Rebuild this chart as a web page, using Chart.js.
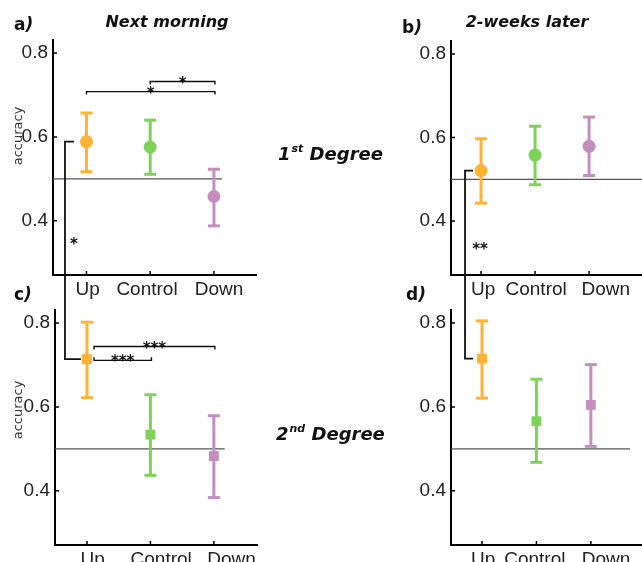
<!DOCTYPE html>
<html>
<head>
<meta charset="utf-8">
<script src="https://cdn.jsdelivr.net/npm/chart.js@4.4.0/dist/chart.umd.min.js"></script>
<style>
  html, body { margin: 0; padding: 0; background: #fff; }
  #wrap { position: relative; width: 642px; height: 562px; overflow: hidden; }
  #wrap canvas { position: absolute; left: 0; top: 0; }
</style>
</head>
<body>
<div id="wrap">
  <canvas id="cA" width="642" height="562"></canvas>
  <canvas id="cB" width="642" height="562"></canvas>
  <canvas id="cC" width="642" height="562"></canvas>
  <canvas id="cD" width="642" height="562"></canvas>
</div>
<script>
// groups and shared axis values
const categories = ['Up', 'Control', 'Down'];
const groupColors = ['#FFB233', '#7DD35A', '#C28FBF'];
const yTicks = [0.4, 0.6, 0.8];
const chance = 0.5;

// a) 1st degree, next morning
const meanA = [0.589, 0.576, 0.458];
const lowA  = [0.517, 0.511, 0.388];
const highA = [0.657, 0.640, 0.523];
// b) 1st degree, 2 weeks later
const meanB = [0.521, 0.558, 0.579];
const lowB  = [0.443, 0.487, 0.509];
const highB = [0.597, 0.627, 0.649];
// c) 2nd degree, next morning
const meanC = [0.714, 0.534, 0.483];
const lowC  = [0.622, 0.437, 0.384];
const highC = [0.802, 0.629, 0.579];
// d) 2nd degree, 2 weeks later
const meanD = [0.715, 0.566, 0.605];
const lowD  = [0.621, 0.468, 0.506];
const highD = [0.805, 0.666, 0.701];

// significance brackets (group index from/to, height in accuracy units)
const sigA = [
  { from: 0, to: 2, y: 0.708, text: '*', tick: 1 },
  { from: 1, to: 2, y: 0.732, text: '*', tick: 1 }
];
const sigC = [
  { from: 0, to: 1, y: 0.711, text: '***', tick: -1 },
  { from: 0, to: 2, y: 0.744, text: '***', tick: 1 }
];

const tickFont = { family: 'Liberation Sans', size: 19 };
const W = 642, H = 562;

const innerTicks = {
  id: 'innerTicks',
  afterDraw(chart) {
    const { ctx, chartArea: a, scales: { x, y } } = chart;
    ctx.save();
    ctx.strokeStyle = '#000';
    ctx.lineWidth = 1.5;
    ctx.beginPath();
    y.ticks.forEach(t => {
      const p = y.getPixelForValue(t.value);
      ctx.moveTo(a.left, p); ctx.lineTo(a.left + 4, p);
    });
    categories.forEach((c, i) => {
      const p = x.getPixelForValue(i + 1);
      ctx.moveTo(p, a.bottom); ctx.lineTo(p, a.bottom - 4);
    });
    ctx.stroke();
    ctx.restore();
  }
};

function brackets(items, gap) {
  return {
    id: 'brackets',
    afterDatasetsDraw(chart) {
      const { ctx, scales: { x, y } } = chart;
      ctx.save();
      ctx.strokeStyle = '#111';
      ctx.fillStyle = '#111';
      ctx.lineWidth = 1.4;
      ctx.font = 'bold 15px "DejaVu Sans"';
      ctx.textAlign = 'center';
      items.forEach(s => {
        const x0 = x.getPixelForValue(s.from + 1) + gap;
        const x1 = x.getPixelForValue(s.to + 1) + 1;
        const py = y.getPixelForValue(s.y);
        ctx.beginPath();
        ctx.moveTo(x0, py + 3 * s.tick); ctx.lineTo(x0, py);
        ctx.lineTo(x1, py); ctx.lineTo(x1, py + 3 * s.tick);
        ctx.stroke();
        ctx.fillText(s.text, (x0 + x1) / 2, py + 6);
      });
      ctx.restore();
    }
  };
}

// vertical bracket joining the "Up" means of the upper and lower panel
function crossBracket(getUpper, upperMean, lowerMean, back, armTop, armBottom, text, textVal, textDx) {
  return {
    id: 'crossBracket',
    afterDraw(chart) {
      const up = getUpper();
      const { ctx } = chart;
      const xl = chart.scales.x.getPixelForValue(1) - back;
      const yTop = up.scales.y.getPixelForValue(upperMean[0]);
      const yBot = chart.scales.y.getPixelForValue(lowerMean[0]);
      ctx.save();
      ctx.strokeStyle = '#111';
      ctx.lineWidth = 1.8;
      ctx.beginPath();
      ctx.moveTo(xl + armTop, yTop); ctx.lineTo(xl, yTop);
      ctx.lineTo(xl, yBot); ctx.lineTo(xl + armBottom, yBot);
      ctx.stroke();
      ctx.fillStyle = '#111';
      ctx.font = 'bold 15px "DejaVu Sans"';
      ctx.textAlign = 'center';
      ctx.fillText(text, xl + textDx, up.scales.y.getPixelForValue(textVal) + 7);
      ctx.restore();
    }
  };
}

const labels = {
  id: 'labels',
  afterDraw(chart) {
    const ctx = chart.ctx;
    ctx.save();
    ctx.fillStyle = '#111';
    const tag = (a, x, y) => {
      ctx.textAlign = 'left';
      ctx.font = 'bold 17px "DejaVu Sans"';
      ctx.fillText(a, x, y);
      const w = ctx.measureText(a).width;
      ctx.font = 'bold italic 17px "DejaVu Sans"';
      ctx.fillText(')', x + w, y);
    };
    tag('a', 14, 30); tag('b', 402, 33); tag('c', 14, 300); tag('d', 406, 300);
    ctx.font = 'bold italic 16px "DejaVu Sans"';
    ctx.textAlign = 'center';
    ctx.fillText('Next morning', 167, 27);
    ctx.fillText('2-weeks later', 527, 27);
    const degree = (num, sup, x, y) => {
      ctx.textAlign = 'left';
      ctx.font = 'bold italic 18px "DejaVu Sans"';
      ctx.fillText(num, x, y);
      let w = ctx.measureText(num).width + 1;
      ctx.font = 'bold italic 11px "DejaVu Sans"';
      ctx.fillText(sup, x + w, y - 8);
      w += ctx.measureText(sup).width;
      ctx.font = 'bold italic 18px "DejaVu Sans"';
      ctx.fillText(' Degree', x + w, y);
    };
    degree('1', 'st', 278, 160);
    degree('2', 'nd', 276, 440);
    ctx.fillStyle = '#333';
    ctx.font = '13px "DejaVu Sans"';
    ctx.textAlign = 'center';
    [136, 410].forEach(cy => {
      ctx.save();
      ctx.translate(18, cy);
      ctx.rotate(-Math.PI / 2);
      ctx.fillText('accuracy', 0, 4);
      ctx.restore();
    });
    ctx.restore();
  }
};

function panel(id, o) {
  const xs = categories.map((c, i) => i + 1);
  const datasets = [{
    data: xs.map((x, i) => ({ x, y: o.mean[i] })),
    pointStyle: o.marker, pointRadius: o.r,
    pointBackgroundColor: groupColors, pointBorderWidth: 0,
    showLine: false, order: 0
  }];
  xs.forEach((x, i) => datasets.push({
    data: [{ x, y: o.low[i] }, { x, y: o.high[i] }],
    showLine: true, borderColor: groupColors[i], borderWidth: 3,
    pointStyle: 'line', pointRadius: 6, pointBorderColor: groupColors[i],
    pointBorderWidth: 3, order: 1
  }));
  datasets.push({
    data: [{ x: o.xMin, y: chance }, { x: o.chanceEnd, y: chance }],
    showLine: true, borderColor: '#555', borderWidth: 1.3, pointRadius: 0, order: 2
  });
  const yw = 40;
  return new Chart(document.getElementById(id), {
    type: 'scatter',
    data: { datasets },
    options: {
      responsive: false,
      animation: false,
      events: [],
      clip: false,
      layout: {
        autoPadding: false,
        padding: { left: o.box[0] - yw, top: o.box[1], right: W - o.box[2], bottom: H - o.box[3] - o.xh }
      },
      plugins: { legend: { display: false }, tooltip: { enabled: false } },
      scales: {
        x: {
          type: 'linear', min: o.xMin, max: o.xMax,
          afterBuildTicks: s => { s.ticks = o.labelAt.map(v => ({ value: v })); },
          afterFit: s => { s.height = o.xh; s.paddingLeft = 0; s.paddingRight = 0; },
          grid: { display: false, drawTicks: false },
          border: { display: true, color: '#000', width: 2 },
          ticks: { callback: (v, i) => categories[i], font: tickFont, color: '#222', padding: 3, maxRotation: 0, autoSkip: false }
        },
        y: {
          min: 0.271, max: 0.831,
          afterBuildTicks: s => { s.ticks = yTicks.map(v => ({ value: v })); },
          afterFit: s => { s.width = yw; },
          grid: { display: false, drawTicks: false },
          border: { display: true, color: '#000', width: 2 },
          ticks: { callback: v => v.toFixed(1), font: tickFont, color: '#222', padding: 5 }
        }
      }
    },
    plugins: [innerTicks].concat(o.extra || [])
  });
}

const chartA = panel('cA', {
  box: [53, 40, 256, 275], xh: 30, xMin: 0.475, xMax: 3.66, chanceEnd: 3.125,
  labelAt: [1.02, 1.95, 3.08],
  mean: meanA, low: lowA, high: highA, marker: 'circle', r: 6.5,
  extra: [labels, brackets(sigA, 0)]
});
const chartB = panel('cB', {
  box: [451, 41, 642, 275], xh: 30, xMin: 0.444, xMax: 3.98, chanceEnd: 3.98,
  labelAt: [1.04, 2.02, 3.31],
  mean: meanB, low: lowB, high: highB, marker: 'circle', r: 6.5
});
const chartC = panel('cC', {
  box: [55, 310, 257, 545], xh: 17, xMin: 0.496, xMax: 3.68, chanceEnd: 3.17,
  labelAt: [1.09, 2.17, 3.28],
  mean: meanC, low: lowC, high: highC, marker: 'rect', r: 7,
  extra: [brackets(sigC, 7), crossBracket(() => chartA, meanA, meanC, 22, 9, 16, '*', 0.35, 9)]
});
const chartD = panel('cD', {
  box: [451, 310, 642, 545], xh: 17, xMin: 0.43, xMax: 3.94, chanceEnd: 3.72,
  labelAt: [1.02, 1.97, 3.28],
  mean: meanD, low: lowD, high: highD, marker: 'rect', r: 7,
  extra: [crossBracket(() => chartB, meanB, meanD, 17, 8, 8, '**', 0.338, 15)]
});
</script>
</body>
</html>
